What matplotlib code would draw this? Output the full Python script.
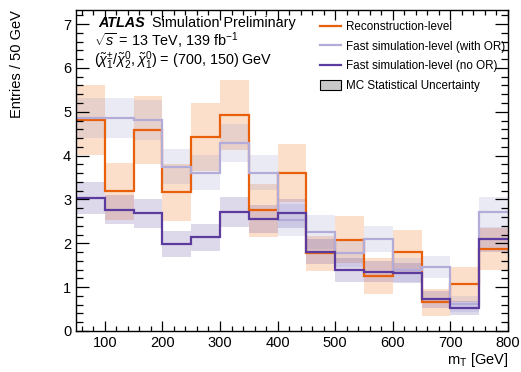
import matplotlib
matplotlib.use("Agg")
from matplotlib import pyplot as plt
from matplotlib.ticker import MultipleLocator
from matplotlib.patches import Patch
from matplotlib.lines import Line2D

plt.rcParams['font.family'] = ['Liberation Sans', 'DejaVu Sans']
plt.rcParams['mathtext.fontset'] = 'custom'
plt.rcParams['mathtext.rm'] = 'Liberation Sans'
plt.rcParams['mathtext.it'] = 'Liberation Sans:italic'
plt.rcParams['mathtext.bf'] = 'Liberation Sans:bold'

# bin edges in m_T [GeV]
edges = [50, 100, 150, 200, 250, 300, 350, 400, 450, 500, 550, 600, 650, 700, 750, 800]

reco = [4.81, 3.19, 4.58, 3.16, 4.42, 4.93, 2.75, 3.60, 1.77, 2.08, 1.25, 1.81, 0.65, 1.07, 1.87]
reco_err = [0.80, 0.65, 0.78, 0.65, 0.77, 0.80, 0.60, 0.66, 0.40, 0.54, 0.41, 0.50, 0.30, 0.40, 0.48]

fast_or = [4.85, 4.86, 4.81, 3.75, 3.61, 4.28, 3.61, 2.53, 2.26, 1.77, 2.10, 1.39, 1.47, 0.62, 2.72]
fast_or_err = [0.46, 0.45, 0.45, 0.40, 0.40, 0.43, 0.40, 0.37, 0.38, 0.32, 0.30, 0.27, 0.25, 0.18, 0.34]

fast_noor = [3.03, 2.77, 2.68, 1.98, 2.14, 2.72, 2.55, 2.68, 1.81, 1.39, 1.35, 1.32, 0.72, 0.52, 2.09]
fast_noor_err = [0.36, 0.34, 0.34, 0.30, 0.31, 0.34, 0.32, 0.34, 0.29, 0.27, 0.24, 0.23, 0.20, 0.16, 0.29]

series = [
    (reco, reco_err, '#e8600c', '#f4a46c', 0.35, 'Reconstruction-level'),
    (fast_or, fast_or_err, '#b4acd8', '#9a96c8', 0.20, 'Fast simulation-level (with OR)'),
    (fast_noor, fast_noor_err, '#5b3c9e', '#6a50a8', 0.22, 'Fast simulation-level (no OR)'),
]

fig = plt.figure(figsize=(5.21, 3.72), dpi=100)
ax = fig.add_axes([76 / 521, 41 / 372, 432 / 521, 321 / 372])

# uncertainty bands
for vals, errs, lc, bc, al, lab in series:
    up = [v + e for v, e in zip(vals, errs)]
    lo = [v - e for v, e in zip(vals, errs)]
    ax.stairs(up, edges, baseline=lo, fill=True, color=bc, alpha=al, lw=0)

# histogram lines
for vals, errs, lc, bc, al, lab in series:
    ax.stairs(vals, edges, baseline=None, color=lc, lw=1.6)

ax.set_xlim(50, 800)
ax.set_ylim(0, 7.32)
ax.xaxis.set_major_locator(MultipleLocator(100))
ax.xaxis.set_minor_locator(MultipleLocator(20))
ax.yaxis.set_major_locator(MultipleLocator(1))
ax.yaxis.set_minor_locator(MultipleLocator(0.2))
ax.tick_params(which='both', direction='in', top=True, right=True, labelsize=10.5, width=0.9)
ax.tick_params(axis='x', which='major', length=7)
ax.tick_params(axis='x', which='minor', length=3.5)
ax.tick_params(axis='y', which='major', length=9.5)
ax.tick_params(axis='y', which='minor', length=5)
for s in ax.spines.values():
    s.set_linewidth(1.0)

ax.set_xlabel(r'm$_\mathrm{T}$ [GeV]', fontsize=10.5, loc='right', labelpad=1)
ax.set_ylabel('Entries / 50 GeV', fontsize=10.5, loc='top', labelpad=28)

atlas = ax.text(0.051, 0.946, 'ATLAS', transform=ax.transAxes, fontsize=10.4,
                fontweight='bold', fontstyle='italic', va='baseline')
ax.annotate('Simulation Preliminary', xy=(1, 0), xycoords=atlas, xytext=(5, 0),
            textcoords='offset points', fontsize=10.4, va='bottom')
ax.text(0.041, 0.886, r'$\sqrt{s}$ = 13 TeV, 139 fb$^{-1}$', transform=ax.transAxes,
        fontsize=10.4, va='baseline')
ax.text(0.041, 0.829, r'$(\tilde{\chi}^{\pm}_{1}/\tilde{\chi}^{0}_{2}, \tilde{\chi}^{0}_{1})$ = (700, 150) GeV',
        transform=ax.transAxes, fontsize=10.4, va='baseline')

handles = [Line2D([], [], color=s[2], lw=1.6) for s in series]
handles.append(Patch(facecolor='#c8c8c8', edgecolor='black', lw=0.8))
labels = [s[5] for s in series] + ['MC Statistical Uncertainty']
ax.legend(handles, labels, loc='upper left', bbox_to_anchor=(0.565, 0.965), frameon=False,
          fontsize=8.4, borderpad=0, borderaxespad=0, handlelength=1.8, handletextpad=0.4,
          labelspacing=0.62, handleheight=1.0)

fig.savefig('out.png', dpi=100)
